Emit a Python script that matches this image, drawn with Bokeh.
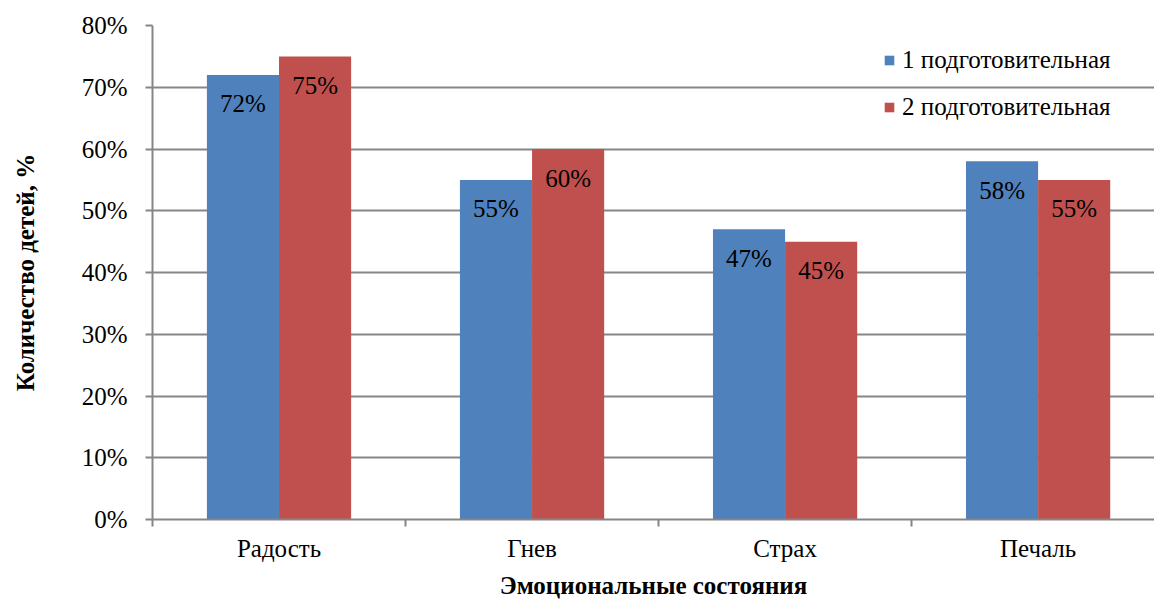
from bokeh.plotting import figure
from bokeh.models import (ColumnDataSource, Range1d, FixedTicker, PrintfTickFormatter,
                          Legend, LegendItem, LinearAxis)
from bokeh.core.properties import value
from bokeh.embed import file_html
from bokeh.resources import INLINE

categories = ["Радость", "Гнев", "Страх", "Печаль"]
series_names = ["1 подготовительная", "2 подготовительная"]
group1 = [72, 55, 47, 58]
group2 = [75, 60, 45, 55]
colors = ["#4F81BD", "#C0504D"]
y_ticks = [0, 10, 20, 30, 40, 50, 60, 70, 80]

FONT = "Liberation Serif"
FS = "25px"
n = len(categories)
centers = [i + 0.5 for i in range(n)]
bw = 0.285

p = figure(width=1154, height=601, output_backend="svg", toolbar_location=None,
           x_range=Range1d(0, 3.96), y_range=Range1d(0, 80),
           min_border_left=152, min_border_right=0, min_border_top=25, min_border_bottom=80,
           x_axis_type=None)
p.outline_line_color = None
p.background_fill_color = "white"
p.border_fill_color = "white"

s1 = ColumnDataSource(dict(x=[c - bw / 2 for c in centers], top=group1,
                           lab=[f"{v}%" for v in group1]))
s2 = ColumnDataSource(dict(x=[c + bw / 2 for c in centers], top=group2,
                           lab=[f"{v}%" for v in group2]))
r1 = p.vbar(x="x", top="top", width=bw, source=s1, fill_color=colors[0], line_color=None)
r2 = p.vbar(x="x", top="top", width=bw, source=s2, fill_color=colors[1], line_color=None)

for s in (s1, s2):
    p.text(x="x", y="top", text="lab", source=s, text_align="center", text_baseline="middle",
           y_offset=29, text_font=value(FONT), text_font_size=FS, text_color="black")

# x axis
xa = LinearAxis()
xa.ticker = FixedTicker(ticks=centers, minor_ticks=[0, 1, 2, 3, 4])
xa.major_label_overrides = {c: cat for c, cat in zip(centers, categories)}
xa.major_tick_line_color = None
xa.major_tick_out = 0
xa.major_tick_in = 0
xa.minor_tick_line_color = "#868686"
xa.minor_tick_out = 7
xa.minor_tick_in = 0
xa.minor_tick_line_width = 2
xa.axis_line_color = "#868686"
xa.axis_line_width = 2
xa.major_label_text_font = FONT
xa.major_label_text_font_size = FS
xa.major_label_text_color = "black"
xa.major_label_standoff = 8
xa.axis_label = "Эмоциональные состояния"
xa.axis_label_text_font = FONT
xa.axis_label_text_font_size = FS
xa.axis_label_text_font_style = "bold"
xa.axis_label_text_color = "black"
xa.axis_label_standoff = 7
p.add_layout(xa, "below")

# y axis
ya = p.yaxis[0]
ya.ticker = FixedTicker(ticks=y_ticks)
ya.formatter = PrintfTickFormatter(format="%d%%")
ya.minor_tick_line_color = None
ya.major_tick_in = 0
ya.major_tick_out = 7
ya.major_tick_line_color = "#868686"
ya.major_tick_line_width = 2
ya.axis_line_color = "#868686"
ya.axis_line_width = 2
ya.major_label_text_font = FONT
ya.major_label_text_font_size = FS
ya.major_label_text_color = "black"
ya.major_label_standoff = 18
ya.axis_label = "Количество детей, %"
ya.axis_label_text_font = FONT
ya.axis_label_text_font_size = FS
ya.axis_label_text_font_style = "bold"
ya.axis_label_text_color = "black"
ya.axis_label_standoff = 40

p.xgrid.visible = False
p.ygrid.grid_line_color = "#868686"
p.ygrid.grid_line_width = 2
p.ygrid.ticker = FixedTicker(ticks=y_ticks)

legend = Legend(items=[LegendItem(label=series_names[0], renderers=[r1]),
                       LegendItem(label=series_names[1], renderers=[r2])],
                location=(731, 398), orientation="vertical",
                padding=0, spacing=19, margin=0,
                glyph_width=12, glyph_height=12, label_height=24, label_standoff=7,
                label_text_font=FONT, label_text_font_size=FS, label_text_color="black",
                background_fill_alpha=0, border_line_color=None)
p.add_layout(legend)

open("out.html", "w").write(file_html(p, INLINE))
